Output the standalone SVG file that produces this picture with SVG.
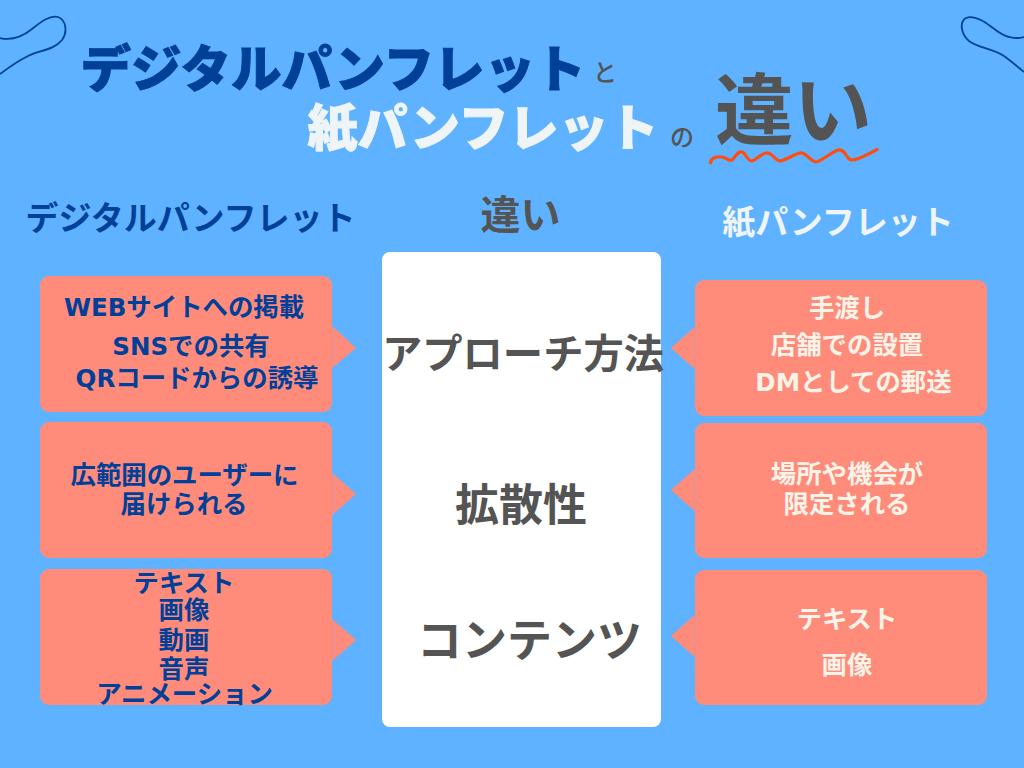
<svg xmlns="http://www.w3.org/2000/svg" width="1024" height="768" viewBox="0 0 1024 768">
<style>
text{font-family:"Noto Sans CJK JP","Noto Sans",sans-serif;text-anchor:middle;font-weight:700}
.box{fill:#ff8b7b}
.navy{fill:#004098}
.cream{fill:#f9f3e8}
.pale{fill:#eff5f7}
.grey{fill:#545454}
.t25{font-size:25.400px}
.lat{font-family:"DejaVu Sans",sans-serif;font-size:24.500px;font-weight:700}
.heavy{font-weight:900;stroke-width:0.900px;stroke-linejoin:miter}
.curl{fill:none;stroke:#004098;stroke-width:1.800}
</style>
<rect width="1024" height="768" fill="#5fb2ff"/>
<g id="decor">
<path class="curl" d="M0 38C12 41 22 37 32 29C42 21 50 15 58 17C66 20 68 32 62 40C54 50 40 50 28 56C18 61 8 68 0 74"/>
<path class="curl" d="M1024 37C1012 40 1003 36 993 28C983 20 973 15 966 18C959 22 961 34 969 41C978 48 992 48 1004 56C1011 61 1018 67 1024 72"/>
<path fill="none" stroke="#ff4d0d" stroke-width="3.200" stroke-linecap="round" stroke-linejoin="round" d="M710.500 163C711 158 716 156 722 157C728 158 729 162 732 160C736 156 738 151 742 152C746 153 747 161 752 161C757 160 762 152 768 153C773 154 776 161 780 161C787 160 794 154 800 153C806 152 810 161 816 162C822 161 830 153 838 150C846 149 846 159 851 160C859 160 868 154 877 149.500"/>
</g>
<g id="title">
<text class="navy heavy" stroke="#004098" x="333" y="87" font-size="50.500">デジタルパンフレット</text>
<text class="grey" x="605" y="81" font-size="24" style="font-weight:500">と</text>
<text class="pale heavy" stroke="#eff5f7" x="483" y="146" font-size="50">紙パンフレット</text>
<text class="grey" x="682" y="146" font-size="24" style="font-weight:500">の</text>
<text class="grey" x="793.500" y="139" font-size="78.500" style="font-weight:700">違い</text>
</g>
<g id="heading-digital"><text class="navy" x="190.500" y="230" font-size="33">デジタルパンフレット</text></g>
<g id="heading-diff"><text class="grey" x="520.500" y="229" font-size="40">違い</text></g>
<g id="heading-paper"><text class="pale" x="838" y="234" font-size="33" style="font-weight:700">紙パンフレット</text></g>
<g id="center-panel">
<rect x="382" y="252" width="279" height="475" rx="8" fill="#fff"/>
<text class="grey" x="523" y="368" font-size="40.300">アプローチ方法</text>
<text class="grey" x="521" y="521" font-size="44">拡散性</text>
<text class="grey" x="529.500" y="657" font-size="45">コンテンツ</text>
</g>
<g id="left-1">
<rect class="box" x="40" y="276" width="292" height="136" rx="9"/>
<path class="box" d="M332.300 326L356 348L332.300 368Z"/>
<text class="navy t25" x="184" y="316"><tspan class="lat">WEB</tspan>サイトへの掲載</text>
<text class="navy t25" x="191" y="355"><tspan class="lat">SNS</tspan>での共有</text>
<text class="navy t25" x="197" y="387"><tspan class="lat">QR</tspan>コードからの誘導</text>
</g>
<g id="left-2">
<rect class="box" x="40" y="422" width="292" height="136" rx="9"/>
<path class="box" d="M332.300 473L356 494L332.300 515Z"/>
<text class="navy t25" x="184.500" y="484">広範囲のユーザーに</text>
<text class="navy t25" x="184" y="513">届けられる</text>
</g>
<g id="left-3">
<rect class="box" x="40" y="569" width="292" height="136" rx="9"/>
<path class="box" d="M332.300 619L356 640L332.300 661Z"/>
<text class="navy t25" x="184" y="592">テキスト</text>
<text class="navy t25" x="184" y="619">画像</text>
<text class="navy t25" x="184" y="649">動画</text>
<text class="navy t25" x="184" y="678">音声</text>
<text class="navy t25" x="184.500" y="703">アニメーション</text>
</g>
<g id="right-1">
<rect class="box" x="695" y="280" width="292" height="136" rx="9"/>
<path class="box" d="M694.700 327L671 348L694.700 369Z"/>
<text class="cream t25" x="847" y="317">手渡し</text>
<text class="cream t25" x="847" y="354">店舗での設置</text>
<text class="cream t25" x="853.500" y="391"><tspan class="lat">DM</tspan>としての郵送</text>
</g>
<g id="right-2">
<rect class="box" x="695" y="423" width="292" height="135" rx="9"/>
<path class="box" d="M694.700 469L671 490L694.700 511Z"/>
<text class="cream t25" x="847" y="483">場所や機会が</text>
<text class="cream t25" x="847" y="513">限定される</text>
</g>
<g id="right-3">
<rect class="box" x="695" y="570" width="292" height="135" rx="9"/>
<path class="box" d="M694.700 615L671 636L694.700 657Z"/>
<text class="cream t25" x="847" y="628">テキスト</text>
<text class="cream t25" x="847" y="674">画像</text>
</g>
<g id="connectors"/>
</svg>
